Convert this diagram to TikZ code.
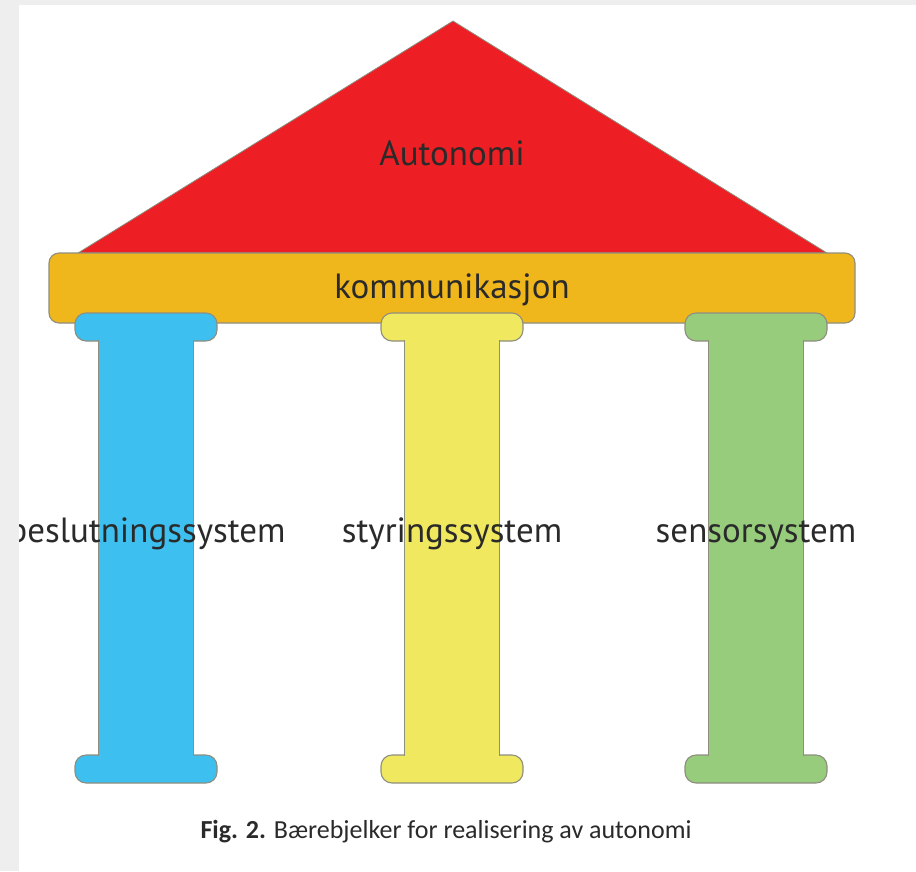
\documentclass[tikz,border=0pt]{standalone}
\usepackage{fontspec}
\setmainfont{Carlito}
\newfontfamily\labfont{PT Sans}
\definecolor{roofred}{HTML}{ED1F24}
\definecolor{beamorange}{HTML}{F0B71D}
\definecolor{colblue}{HTML}{3DC0EF}
\definecolor{colyellow}{HTML}{F0E85E}
\definecolor{colgreen}{HTML}{97CC7D}
\definecolor{edgegray}{HTML}{8E8E80}
\definecolor{pagegray}{HTML}{EEEEEE}
\definecolor{txt}{HTML}{2A2A2A}
\tikzset{
  part/.style={draw=edgegray, line width=1.1pt},
  lab/.style={font=\labfont\fontsize{35}{40}\selectfont, text=txt, anchor=base, inner sep=0pt},
  captext/.style={font=\fontsize{26}{30}\selectfont, text=txt, anchor=base, inner sep=0pt}
}
\newcommand{\pillar}[3]{%
  \draw[part, fill=#2, rounded corners=11pt] (#1-71,313) rectangle (#1+71,341);
  \draw[part, fill=#2, rounded corners=11pt] (#1-71,755) rectangle (#1+71,783);
  \draw[part, fill=#2] (#1-47.5,341) rectangle (#1+47.5,755);
  \fill[#2] (#1-46.9,336) rectangle (#1+46.9,760);
  \coordinate (#3) at (#1,548);
}
\begin{document}
\begin{tikzpicture}[x=1pt,y=-1pt]
\useasboundingbox (0,0) rectangle (916,871);
\fill[white] (0,0) rectangle (916,871);
% roof
\draw[part, line width=0.8pt, fill=roofred] (78,253) -- (453,21) -- (827,253) -- cycle;
\node[lab] (roof) at (452,165) {Autonomi};
% beam
\draw[part, fill=beamorange, rounded corners=10pt] (49,253) rectangle (855,323);
\node[lab] (beam) at (452,298) {kommunikasjon};
% pillars
\pillar{146}{colblue}{p1}
\pillar{452}{colyellow}{p2}
\pillar{756}{colgreen}{p3}
\node[lab] (l1) at (147,542) {beslutningssystem};
\node[lab] (l2) at (452,542) {styringssystem};
\node[lab] (l3) at (756,542) {sensorsystem};
% caption
\node[captext] (caption) at (446,838) {\textbf{Fig. 2.} Bærebjelker for realisering av autonomi};
% page border strips
\fill[pagegray] (0,0) rectangle (19,871);
\fill[pagegray] (0,0) rectangle (916,5);
\end{tikzpicture}
\end{document}
